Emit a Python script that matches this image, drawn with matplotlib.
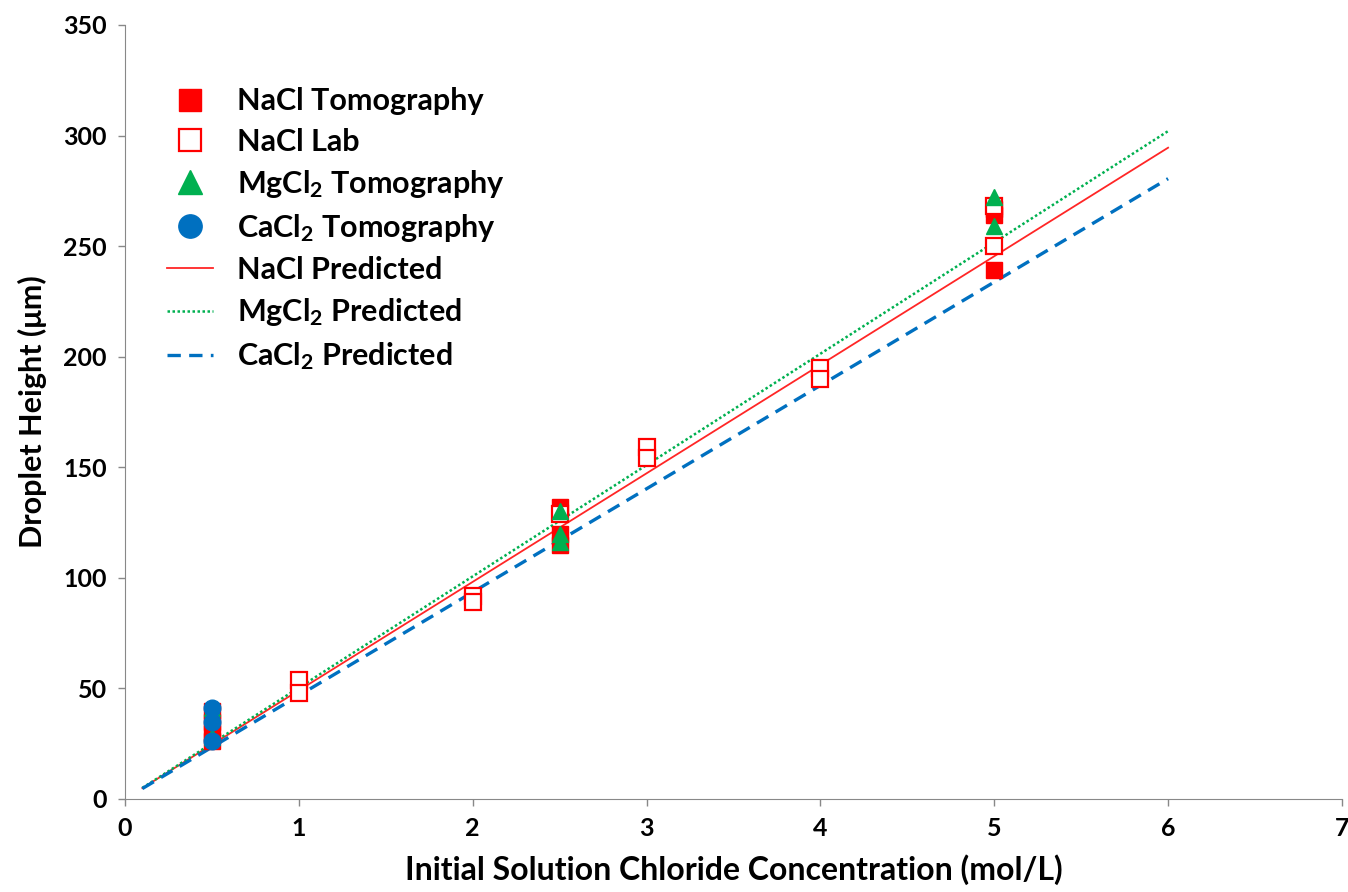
import matplotlib
matplotlib.use("Agg")
import matplotlib.pyplot as plt

plt.rcParams['font.family'] = ['Lato', 'DejaVu Sans']
plt.rcParams['font.weight'] = 'bold'
plt.rcParams['mathtext.default'] = 'regular'

# measured points
nacl_tomo_x = [0.5, 0.5, 0.5, 0.5, 2.5, 2.5, 2.5, 5, 5, 5]
nacl_tomo_y = [40, 35, 30, 26, 132, 120, 115, 264, 267, 239]
nacl_lab_x = [1, 1, 2, 2, 2.5, 3, 3, 4, 4, 5, 5]
nacl_lab_y = [54, 48, 92, 89, 129, 159, 154, 195, 190, 268, 250]
mgcl_tomo_x = [0.5, 0.5, 2.5, 2.5, 2.5, 5, 5]
mgcl_tomo_y = [41, 28, 130, 120, 116, 272, 259]
cacl_tomo_x = [0.5, 0.5, 0.5]
cacl_tomo_y = [41, 35, 26]

# predicted lines (end points)
pred_x = [0.1, 6]
nacl_pred = [4.9, 294.5]
mgcl_pred = [5.0, 302]
cacl_pred = [4.7, 280.5]

red = '#FF0000'
green = '#00B050'
blue = '#0070C0'

fig = plt.figure(figsize=(13.48, 8.92), dpi=100)
ax = fig.add_axes([0.0927, 0.1043, 0.9028, 0.8677])

ax.plot(pred_x, nacl_pred, color=red, lw=1.3, alpha=0.85, label='NaCl Predicted', zorder=2)
ax.plot(pred_x, mgcl_pred, color=green, lw=1.8, linestyle=(0, (1, 1)), label='MgCl$_2$ Predicted', zorder=2)
ax.plot(pred_x, cacl_pred, color=blue, lw=2.4, linestyle=(0, (4, 2.5)), label='CaCl$_2$ Predicted', zorder=2)

ax.plot(nacl_tomo_x, nacl_tomo_y, 's', color=red, ms=11, linestyle='none', label='NaCl Tomography', zorder=3)
ax.plot(nacl_lab_x, nacl_lab_y, 's', mfc='white', mec=red, mew=1.6, ms=11, linestyle='none', label='NaCl Lab', zorder=3)
ax.plot(mgcl_tomo_x, mgcl_tomo_y, '^', color=green, ms=12, linestyle='none', label='MgCl$_2$ Tomography', zorder=4)
ax.plot(cacl_tomo_x, cacl_tomo_y, 'o', color=blue, ms=12, linestyle='none', label='CaCl$_2$ Tomography', zorder=5)

ax.set_xlim(0, 7)
ax.set_ylim(0, 350)
ax.set_xticks(range(0, 8))
ax.set_yticks(range(0, 351, 50))
ax.tick_params(labelsize=18, colors='black', length=5, width=1, color='#888888', pad=8)
for s in ['top', 'right']:
    ax.spines[s].set_visible(False)
for s in ['left', 'bottom']:
    ax.spines[s].set_color('#888888')
for lbl in ax.get_xticklabels() + ax.get_yticklabels():
    lbl.set_fontweight('bold')

ax.set_xlabel('Initial Solution Chloride Concentration (mol/L)', fontsize=23, fontweight='bold', labelpad=10)
ax.set_ylabel('Droplet Height (μm)', fontsize=22, fontweight='bold', labelpad=12)

handles, labels = ax.get_legend_handles_labels()
order = [3, 4, 5, 6, 0, 1, 2]
leg = ax.legend([handles[i] for i in order], [labels[i] for i in order],
                loc='upper left', bbox_to_anchor=(0.012, 0.955), frameon=False,
                prop={'weight': 'bold', 'size': 22}, markerscale=1.4,
                handlelength=1.5, handletextpad=0.8, labelspacing=0.4)

fig.savefig('out.png', dpi=100)
